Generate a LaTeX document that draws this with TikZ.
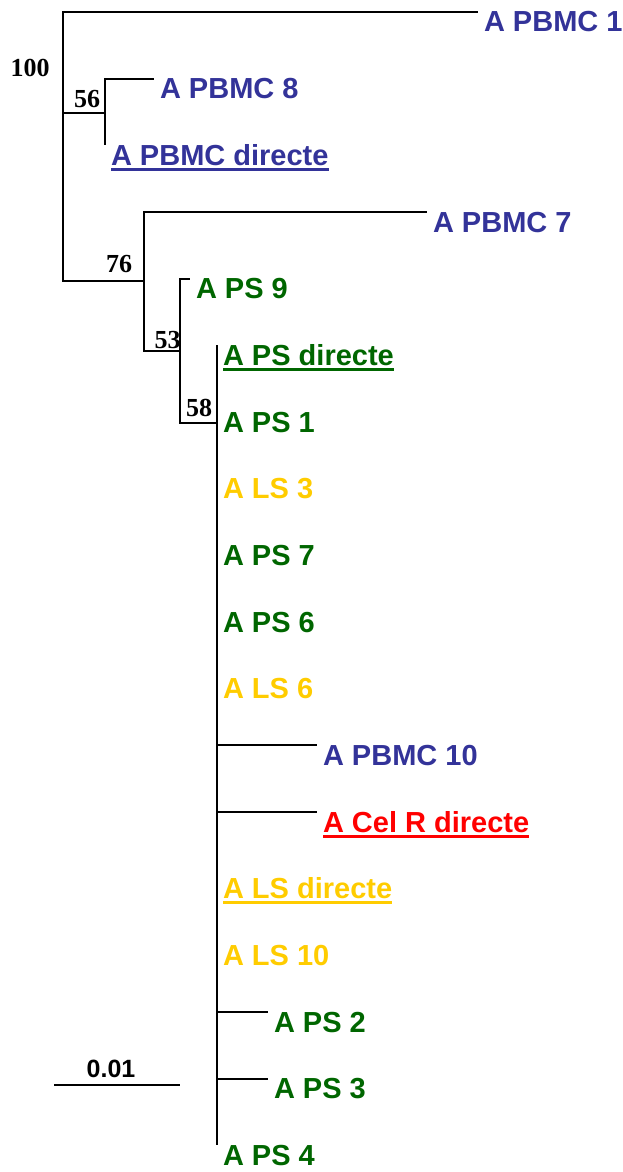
\documentclass[tikz,border=0pt]{standalone}
\usepackage{fontspec}
\setmainfont{Liberation Serif}
\newfontfamily\leaffont{Liberation Sans}
\definecolor{pbmc}{HTML}{333399}
\definecolor{ps}{HTML}{006600}
\definecolor{ls}{HTML}{FFCC00}
\definecolor{celr}{HTML}{FF0000}
\newcommand\undl[1]{\sbox0{#1}\rlap{\rule[-5.5pt]{\wd0}{3pt}}\usebox0}

\begin{document}
\begin{tikzpicture}[x=1pt, y=-1pt, line width=2pt,
    leaf/.style={anchor=north west, inner sep=0pt, outer xsep=6pt, outer ysep=0pt,
        text height=20pt, text depth=6pt, font=\leaffont\bfseries\fontsize{29}{29}\selectfont},
    boot/.style={inner sep=0pt, font=\bfseries\fontsize{26}{26}\selectfont}]
            %\draw[lightgray] (0, 0) grid (623, 1172);
            \useasboundingbox (0, 0) rectangle (623, 1172);

            % inner nodes of the tree
            \coordinate (r) at (63, 113);
            \coordinate (n56) at (105, 113);
            \coordinate (n76) at (144, 281);
            \coordinate (n53) at (180, 351);
            \coordinate (n58) at (217, 423);

            % leaves
            \node[leaf, text=pbmc] (l0) at (478, 12) {A PBMC 1};
            \node[leaf, text=pbmc] (l1) at (154, 78.7) {A PBMC 8};
            \node[leaf, text=pbmc] (l2) at (105, 145.3) {\undl{A PBMC directe}};
            \node[leaf, text=pbmc] (l3) at (427, 212) {A PBMC 7};
            \node[leaf, text=ps] (l4) at (190, 278.7) {A PS 9};
            \node[leaf, text=ps] (l5) at (217, 345.3) {\undl{A PS directe}};
            \node[leaf, text=ps] (l6) at (217, 412) {A PS 1};
            \node[leaf, text=ls] (l7) at (217, 478.7) {A LS 3};
            \node[leaf, text=ps] (l8) at (217, 545.3) {A PS 7};
            \node[leaf, text=ps] (l9) at (217, 612) {A PS 6};
            \node[leaf, text=ls] (l10) at (217, 678.7) {A LS 6};
            \node[leaf, text=pbmc] (l11) at (317, 745.3) {A PBMC 10};
            \node[leaf, text=celr] (l12) at (317, 812) {\undl{A Cel R directe}};
            \node[leaf, text=ls] (l13) at (217, 878.7) {\undl{A LS directe}};
            \node[leaf, text=ls] (l14) at (217, 945.3) {A LS 10};
            \node[leaf, text=ps] (l15) at (268, 1012) {A PS 2};
            \node[leaf, text=ps] (l16) at (268, 1078.7) {A PS 3};
            \node[leaf, text=ps] (l17) at (217, 1145.3) {A PS 4};

            % branches
            \draw (r) |- (l0.north west);
            \draw (r) -- (n56);
            \draw (r) |- (n76);
            \draw (n56) |- (l1.north west);
            \draw (n56) |- (l2.north west);
            \draw (n76) |- (l3.north west);
            \draw (n76) |- (n53);
            \draw (n53) |- (l4.north west);
            \draw (n53) |- (n58);
            \foreach \i in {5,...,17}
                \draw (n58) |- (l\i.north west);

            % bootstrap values
            \node[boot] (b100) at (30, 68) {100};
            \node[boot] (b56) at (87, 99) {56};
            \node[boot] (b76) at (119, 264) {76};
            \node[boot] (b53) at (167.5, 340) {53};
            \node[boot] (b58) at (199, 407.5) {58};

            % scale bar
            \coordinate (s1) at (54, 1085);
            \coordinate (s2) at (180, 1085);
            \draw (s1) -- (s2);
            \node[anchor=south, inner sep=0pt, font=\leaffont\bfseries\fontsize{25}{25}\selectfont] (sc) at (111, 1079) {0.01};
        \end{tikzpicture}
\end{document}
